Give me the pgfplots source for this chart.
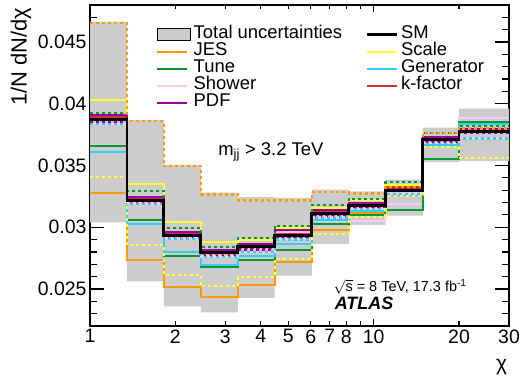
\documentclass[border=0pt]{standalone}
\usepackage{pgfplots}
\pgfplotsset{compat=1.18}
\usepackage{pgfplotstable}
\usepgfplotslibrary{fillbetween}
\usepackage{fontspec}
\setmainfont{Liberation Sans}

\definecolor{cband}{RGB}{204,204,204}
\definecolor{cjes}{RGB}{255,153,0}
\definecolor{cscale}{RGB}{255,255,51}
\definecolor{ctune}{RGB}{0,153,51}
\definecolor{cgen}{RGB}{51,204,255}
\definecolor{cshow}{RGB}{250,200,250}
\definecolor{cpdf}{RGB}{153,0,153}
\definecolor{ckf}{RGB}{204,51,51}

% left bin edge, band, SM and the up/down variations (s = solid, d = dotted)
\pgfplotstableread{
x     up      lo      sm      jess    jesd    scas    scad    tuns    tund    gens    gend    shos    shod    kfs     kfd     pdfs    pdfd
1.00  0.04665 0.03040 0.03875 0.03279 0.04652 0.04030 0.03408 0.03657 0.03927 0.03608 0.03833 0.03900 0.03836 0.03890 0.03865 0.03911 0.03850
1.35  0.03870 0.02562 0.03216 0.02738 0.03859 0.03352 0.02854 0.03056 0.03292 0.03030 0.03189 0.03240 0.03192 0.03226 0.03205 0.03246 0.03190
1.82  0.03505 0.02359 0.02932 0.02516 0.03494 0.03044 0.02616 0.02764 0.02992 0.02800 0.02906 0.02950 0.02909 0.02942 0.02922 0.02959 0.02910
2.46  0.03280 0.02311 0.02797 0.02432 0.03265 0.02878 0.02521 0.02675 0.02843 0.02697 0.02760 0.02810 0.02763 0.02807 0.02787 0.02819 0.02770
3.32  0.03243 0.02427 0.02841 0.02535 0.03216 0.02900 0.02594 0.02738 0.02910 0.02770 0.02797 0.02860 0.02800 0.02851 0.02831 0.02867 0.02820
4.48  0.03238 0.02608 0.02932 0.02716 0.03216 0.02991 0.02743 0.02819 0.03013 0.02867 0.02900 0.02950 0.02903 0.02942 0.02922 0.02975 0.02910
6.05  0.03305 0.02865 0.03111 0.02975 0.03283 0.03157 0.02946 0.03030 0.03178 0.03056 0.03076 0.03130 0.03079 0.03121 0.03101 0.03137 0.03090
8.17  0.03290 0.03020 0.03178 0.03116 0.03273 0.03219 0.03081 0.03103 0.03230 0.03130 0.03143 0.03048 0.03146 0.03188 0.03168 0.03197 0.03160
11.0  0.03386 0.03095 0.03300 0.03290 0.03324 0.03345 0.03251 0.03143 0.03365 0.03260 0.03270 0.03192 0.03273 0.03322 0.03318 0.03310 0.03290
14.9  0.03806 0.03527 0.03711 0.03720 0.03762 0.03730 0.03652 0.03549 0.03765 0.03670 0.03676 0.03720 0.03679 0.03722 0.03702 0.03730 0.03690
20.0  0.03960 0.03535 0.03776 0.03785 0.03800 0.03835 0.03559 0.03851 0.03819 0.03835 0.03719 0.03881 0.03722 0.03780 0.03770 0.03795 0.03760
30.0  0.03960 0.03535 0.03776 0.03785 0.03800 0.03835 0.03559 0.03851 0.03819 0.03835 0.03719 0.03881 0.03722 0.03780 0.03770 0.03795 0.03760
}\chidata

\begin{document}
\begin{tikzpicture}
\begin{axis}[
  name=ax,
  scale only axis,
  width=419bp, height=321bp,
  xmode=log, xmin=1, xmax=30,
  ymin=0.022, ymax=0.048,
  axis line style={line width=1.5bp},
  every tick/.style={black, line width=1.2bp},
  major tick length=7bp, minor tick length=4.5bp,
  xtick={1,10}, xticklabels={1,10},
  extra x ticks={2,3,4,5,6,7,8,20,30},
  extra x tick labels={2,3,4,5,6,7,8,20,30},
  extra x tick style={major tick length=4.5bp},
  ytick={0.022,0.023,...,0.0485}, yticklabels={},
  extra y ticks={0.025,0.03,0.035,0.04,0.045},
  extra y tick labels={0.025,0.03,0.035,0.04,0.045},
  extra y tick style={major tick length=14bp},
  scaled y ticks=false,
  tick label style={font=\fontsize{19.5}{23}\selectfont},
  xlabel={χ},
  xlabel style={font=\fontsize{21}{24}\selectfont, at={(rel axis cs:0.9826,-0.128)}, anchor=center},
  ylabel={1/N dN/dχ},
  ylabel style={font=\fontsize{22}{26}\selectfont, at={(rel axis cs:-0.165,1.002)}, anchor=east},
  legend columns=2,
  legend cell align=left,
  legend image code/.code={\draw[#1] (0bp,0bp) -- (30bp,0bp);},
  legend style={draw=none, fill=none, at={(rel axis cs:0.1575,0.935)}, anchor=north west,
    inner sep=0pt, font=\fontsize{18.5}{22}\selectfont, row sep=0pt,
    nodes={inner xsep=3bp, inner ysep=0bp, text height=12.5bp, text depth=4.5bp},
    /tikz/every even column/.append style={column sep=20bp}},
  sol/.style={line width=2bp, const plot mark left, forget plot},
  dot/.style={line width=2.2bp, dash pattern=on 3bp off 3bp, const plot mark left, forget plot},
]
% legend in the reference's row order
\addlegendimage{legend image code/.code={\draw[fill=cband, draw=black, line width=1bp] (0bp,-6bp) rectangle (33bp,6bp);}}
\addlegendentry{Total uncertainties}
\addlegendimage{black, line width=2.8bp}
\addlegendentry{SM}
\addlegendimage{cjes, line width=2bp}
\addlegendentry{JES}
\addlegendimage{cscale, line width=2bp}
\addlegendentry{Scale}
\addlegendimage{ctune, line width=2bp}
\addlegendentry{Tune}
\addlegendimage{cgen, line width=2bp}
\addlegendentry{Generator}
\addlegendimage{cshow, line width=2bp}
\addlegendentry{Shower}
\addlegendimage{ckf, line width=2bp}
\addlegendentry{k-factor}
\addlegendimage{cpdf, line width=2bp}
\addlegendentry{PDF}

% total uncertainty band
\addplot[name path=bu, draw=none, const plot mark left, forget plot] table[x=x, y=up] {\chidata};
\addplot[name path=bl, draw=none, const plot mark left, forget plot] table[x=x, y=lo] {\chidata};
\addplot[fill=cband, draw=none, forget plot] fill between[of=bu and bl];

% variations, solid
\addplot[sol, cshow] table[x=x, y=shos] {\chidata};
\addplot[sol, cjes] table[x=x, y=jess] {\chidata};
\addplot[sol, cscale] table[x=x, y=scas] {\chidata};
\addplot[sol, ctune] table[x=x, y=tuns] {\chidata};
\addplot[sol, cgen] table[x=x, y=gens] {\chidata};
\addplot[sol, ckf] table[x=x, y=kfs] {\chidata};
\addplot[sol, cpdf] table[x=x, y=pdfs] {\chidata};
% variations, dotted
\addplot[dot, ckf] table[x=x, y=kfd] {\chidata};
\addplot[dot, cpdf] table[x=x, y=pdfd] {\chidata};
\addplot[dot, cgen] table[x=x, y=gend] {\chidata};
\addplot[dot, cshow, dash phase=3bp] table[x=x, y=shod] {\chidata};
\addplot[dot, cscale] table[x=x, y=scad] {\chidata};
\addplot[dot, ctune] table[x=x, y=tund] {\chidata};
\addplot[dot, cjes] table[x=x, y=jesd] {\chidata};
% SM
\addplot[line width=2.8bp, black, const plot mark left, forget plot] table[x=x, y=sm] {\chidata};

\node[anchor=west, font=\fontsize{18.5}{22}\selectfont] at (rel axis cs:0.298,0.542) {m\textsubscript{jj} > 3.2 TeV};
\node[anchor=west, font=\fontsize{14.5}{17}\selectfont] at (rel axis cs:0.573,0.1215) {$\sqrt{\mbox{s}}$ = 8 TeV, 17.3 fb\textsuperscript{-1}};
\node[anchor=west, font=\fontsize{18}{22}\selectfont\bfseries\itshape] at (rel axis cs:0.576,0.0717) {ATLAS};
\end{axis}
\pgfresetboundingbox
\path ([shift={(-90bp,-58bp)}]ax.south west) rectangle ([shift={(12bp,5bp)}]ax.north east);
\end{tikzpicture}
\end{document}
